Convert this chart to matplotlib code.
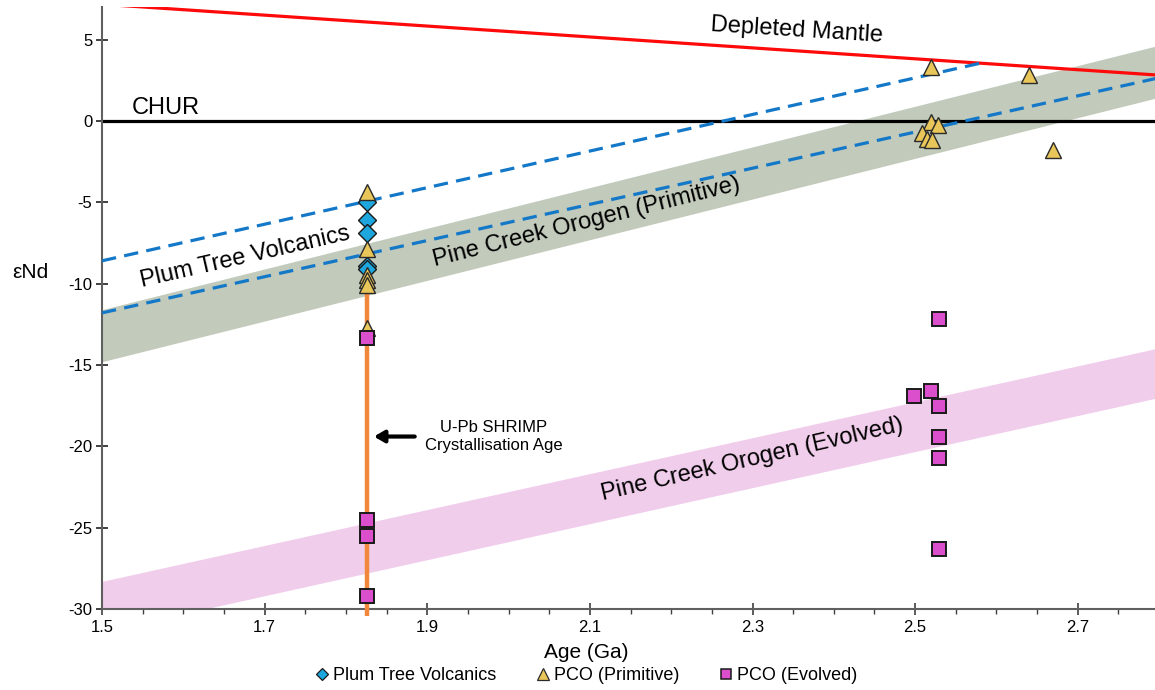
import matplotlib
matplotlib.use("Agg")
import matplotlib.pyplot as plt
from matplotlib.lines import Line2D
from matplotlib.ticker import MultipleLocator

plt.rcParams['font.family'] = ['Liberation Sans', 'DejaVu Sans']
plt.rcParams['axes.unicode_minus'] = False

# ---- data ----
ptv_age = [1.826, 1.826, 1.826, 1.826, 1.826]
ptv_end = [-5.0, -6.1, -6.9, -8.9, -9.1]

prim_age = [1.826, 1.826, 1.826, 1.826, 1.826, 1.826,
            2.520, 2.640, 2.520, 2.528, 2.509, 2.515, 2.521, 2.669]
prim_end = [-4.4, -7.9, -9.5, -9.8, -10.1, -12.7,
            3.3, 2.8, -0.05, -0.25, -0.75, -1.1, -1.2, -1.8]

evo_age = [1.826, 1.826, 1.826, 1.826,
           2.529, 2.499, 2.520, 2.529, 2.529, 2.529, 2.529]
evo_end = [-13.35, -24.55, -25.5, -29.2,
           -12.2, -16.9, -16.6, -17.5, -19.4, -20.7, -26.3]

band_age = [1.5, 2.8]
prim_band_top = [-11.6, 4.65]
prim_band_bot = [-14.8, 1.45]
evo_band_top = [-28.3, -13.95]
evo_band_bot = [-31.4, -17.0]

dm_age = [1.5, 2.8]
dm_end = [7.17, 2.81]
chur_end = [0, 0]

ptv_line_age = [1.5, 2.585]
ptv_line_end = [-8.6, 3.6]
prim_line_age = [1.5, 2.8]
prim_line_end = [-11.8, 2.65]

cryst_age = 1.826
cryst_range = [-30.4, -10.0]

x_ticks = [1.5, 1.7, 1.9, 2.1, 2.3, 2.5, 2.7]
y_ticks = [-30, -25, -20, -15, -10, -5, 0, 5]

# ---- figure ----
fig = plt.figure(figsize=(11.55, 6.90), dpi=100)
ax = fig.add_axes([102/1155, 1 - 609/690, 1 - 102/1155, (609 - 7)/690])

ax.fill_between(band_age, prim_band_bot, prim_band_top, color='#c1cabb', lw=0, zorder=1)
ax.fill_between(band_age, evo_band_bot, evo_band_top, color='#f1cdec', lw=0, zorder=1)

ax.plot(band_age, chur_end, color='black', lw=2.3, zorder=2)
ax.plot(dm_age, dm_end, color='#ff0a0a', lw=2.3, zorder=2)
ax.plot(ptv_line_age, ptv_line_end, color='#1478c8', lw=2.3, ls=(0, (4.5, 2.6)), zorder=3)
ax.plot(prim_line_age, prim_line_end, color='#1478c8', lw=2.3, ls=(0, (4.5, 2.6)), zorder=3)
ax.plot([cryst_age, cryst_age], cryst_range, color='#f0873a', lw=3.2, zorder=3,
        clip_on=False, solid_capstyle='butt')

ax.plot(ptv_age, ptv_end, ls='none', marker='D', ms=9, mfc='#1ea7df', mec='#1a1a1a',
        mew=1.0, zorder=4)
ax.plot(prim_age, prim_end, ls='none', marker='^', ms=11, mfc='#e8c65a', mec='#2a2a2a',
        mew=1.0, zorder=5)
ax.plot(evo_age, evo_end, ls='none', marker='s', ms=10, mfc='#dc4fcc', mec='#1a1a1a',
        mew=1.4, zorder=6)

# labels in plot
ax.text(2.354, 5.55, 'Depleted Mantle', fontsize=17, rotation=-3.6, ha='center', va='center', zorder=7)
ax.text(1.536, 0.45, 'CHUR', fontsize=17, ha='left', va='baseline', zorder=7)
ax.text(1.676, -8.4, 'Plum Tree Volcanics', fontsize=17, rotation=12.9, ha='center', va='center', zorder=7)
ax.text(2.096, -6.2, 'Pine Creek Orogen (Primitive)', fontsize=17, rotation=14.0, ha='center', va='center', zorder=7)
ax.text(2.300, -20.8, 'Pine Creek Orogen (Evolved)', fontsize=17, rotation=13.0, ha='center', va='center', zorder=7)

ax.annotate('', xy=(1.831, -19.4), xytext=(1.888, -19.4),
            arrowprops=dict(arrowstyle='-|>,head_length=0.6,head_width=0.35', color='black', lw=3),
            zorder=7)
ax.text(1.982, -19.4, 'U-Pb SHRIMP\nCrystallisation Age', fontsize=12, ha='center', va='center',
        linespacing=1.25, zorder=7)

ax.set_xlim(1.5, 2.795)
ax.set_ylim(-30, 7)
ax.set_xticks(x_ticks)
ax.set_yticks(y_ticks)
ax.xaxis.set_minor_locator(MultipleLocator(0.05))
ax.tick_params(axis='x', which='major', direction='inout', length=8, width=1.2, color='#404040',
               labelsize=12, pad=4)
ax.tick_params(axis='x', which='minor', direction='out', length=3.5, width=1.0, color='#404040')
ax.tick_params(axis='y', which='major', direction='inout', length=8, width=1.2, color='#202020',
               labelsize=12, pad=3)
for lab in ax.get_xticklabels():
    lab.set_family(['Liberation Sans Narrow', 'Liberation Sans'])
for s in ['top', 'right']:
    ax.spines[s].set_visible(False)
for s in ['left', 'bottom']:
    ax.spines[s].set_color('#606060')
    ax.spines[s].set_linewidth(1.5)

fig.text(586/1155, 1 - 652/690, 'Age (Ga)', fontsize=15, ha='center', va='center')
fig.text(30/1155, 1 - 272/690, 'εNd', fontsize=15, ha='center', va='center')

handles = [
    Line2D([], [], ls='none', marker='D', ms=6.5, mfc='#1ea7df', mec='#1a1a1a', mew=0.9),
    Line2D([], [], ls='none', marker='^', ms=8, mfc='#e8c65a', mec='#2a2a2a', mew=0.9),
    Line2D([], [], ls='none', marker='s', ms=7, mfc='#dc4fcc', mec='#1a1a1a', mew=1.1),
]
fig.legend(handles, ['Plum Tree Volcanics', 'PCO (Primitive)', 'PCO (Evolved)'],
           loc='center', bbox_to_anchor=(586/1155, 1 - 676/690), ncol=3, frameon=False,
           fontsize=13, handlelength=0.8, handletextpad=0.2, columnspacing=2.2)

fig.savefig('out.png', dpi=100)
